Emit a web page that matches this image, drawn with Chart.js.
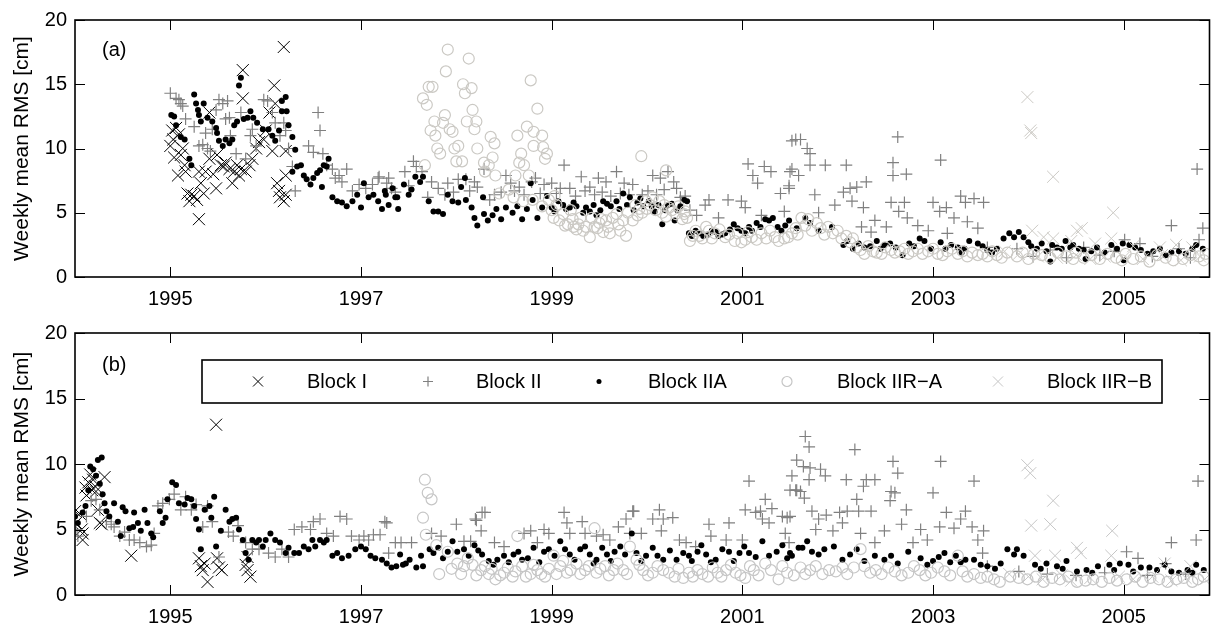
<!DOCTYPE html>
<html>
<head>
<meta charset="utf-8">
<script src="https://cdn.jsdelivr.net/npm/chart.js@4.4.0/dist/chart.umd.min.js"></script>
<style>
  html, body { margin: 0; padding: 0; background: #fff; }
  #wrap { position: relative; width: 1219px; height: 628px; }
  canvas { position: absolute; left: 0; }
  #chartA { top: 0; }
  #chartB { top: 310px; }
</style>
</head>
<body>
<div id="wrap">
  <canvas id="chartA" width="1219" height="310"></canvas>
  <canvas id="chartB" width="1219" height="318"></canvas>
</div>
<script>
const yearTicks = [1995, 1997, 1999, 2001, 2003, 2005];
const rmsTicks = [0, 5, 10, 15, 20];
const seriesNames = ['Block I', 'Block II', 'Block IIA', 'Block IIR\u2212A', 'Block IIR\u2212B'];

// panel (a): [decimal year, weekly mean RMS cm]
const aBlockI = [
  [1995.00,10.2],[1995.03,10.7],[1995.02,11.4],[1995.06,11.6],[1995.09,11.1],[1995.11,9.5],[1995.13,10.0],
  [1995.08,7.9],[1995.15,8.7],[1995.16,8.2],[1995.18,6.5],[1995.20,5.9],[1995.22,6.4],[1995.25,6.3],
  [1995.30,4.5],[1995.30,8.2],[1995.32,7.3],[1995.35,6.5],[1995.37,8.2],[1995.41,9.2],[1995.41,12.8],
  [1995.48,6.9],[1995.49,9.5],[1995.53,8.7],[1995.56,8.6],[1995.62,8.4],[1995.65,7.3],[1995.67,8.2],
  [1995.70,8.7],[1995.76,16.1],[1995.76,13.9],[1995.72,7.9],[1995.79,8.2],[1995.83,8.7],[1995.86,9.2],
  [1995.90,10.0],[1995.93,10.5],[1995.98,10.7],[1996.00,11.4],[1996.09,14.9],[1996.10,13.5],[1996.07,9.8],
  [1996.12,7.3],[1996.14,6.7],[1996.15,6.2],[1996.21,6.4],[1996.19,17.9],[1996.21,7.9],[1996.19,5.9],
  [1996.21,9.8],[1995.04,9.3],[1995.28,6.0],[1995.45,8.0],[1995.58,8.9],[1995.74,8.4],[1996.04,12.8]
];
const aBlockII = [
  [1995.00,14.3],[1995.06,13.9],[1995.09,13.8],[1995.11,13.5],[1995.13,13.3],[1995.16,12.3],[1995.25,11.7],
  [1995.30,10.2],[1995.39,10.0],[1995.37,11.2],[1995.44,11.5],[1995.48,13.0],[1995.51,13.8],[1995.55,13.5],
  [1995.60,13.7],[1995.58,12.3],[1995.62,12.4],[1995.63,11.0],[1995.69,9.6],[1995.74,12.8],[1995.79,9.2],
  [1995.84,11.0],[1995.86,11.5],[1995.90,10.2],[1995.98,13.8],[1996.02,13.7],[1996.07,12.8],[1996.10,12.0],
  [1996.15,11.0],[1996.19,12.0],[1996.21,11.4],[1996.24,10.0],[1996.28,8.6],[1996.31,6.7],[1996.45,10.2],
  [1996.50,9.7],[1996.55,12.8],[1996.57,11.4],[1996.60,9.6],[1996.64,8.7],[1996.70,8.4],[1996.73,7.7],
  [1996.77,7.9],[1996.80,7.4],[1996.85,8.4],[1996.91,6.7],[1996.98,7.2],[1997.05,6.9],[1997.12,7.2],
  [1997.18,7.7],[1997.27,7.3],[1997.32,6.9],[1995.34,10.3],[1995.42,9.8],
  [1997.19,7.8],[1997.29,7.7],[1997.46,8.2],[1997.55,9.0],[1997.58,8.6],[1997.64,8.2],[1997.74,7.4],
  [1997.81,6.9],[1997.88,6.4],[1997.91,7.3],[1998.02,7.6],[1998.10,7.6],[1998.19,7.4],[1998.22,7.0],
  [1998.29,8.4],[1998.40,6.4],[1998.52,7.9],[1998.57,7.3],[1998.61,6.7],[1998.71,6.4],[1998.79,7.4],
  [1998.83,7.7],[1998.92,7.2],[1999.00,7.3],[1999.13,8.7],[1999.19,6.9],[1999.31,7.8],[1999.40,7.0],
  [1999.49,7.7],[1999.57,7.4],[1999.68,8.2],[1999.76,7.3],[1999.85,7.2],[1999.95,6.4],[2000.06,7.9],
  [2000.14,7.7],[2000.22,8.2],[2000.28,7.4],[2000.35,6.2],[2000.52,4.8],[2000.61,5.6],[2000.65,6.0],
  [2000.85,6.0],[2000.99,5.9],[2001.06,8.8],[2001.11,7.9],[2001.16,7.3],[2001.23,8.6],[2001.30,8.2],
  [2001.40,6.5],[2001.44,5.1],[2001.49,6.9],[2001.52,10.6],[2001.50,8.2],[2001.03,5.4],
  [1997.70,6.2],[1998.35,6.0],[1999.05,6.5],[1999.62,6.3],[2000.45,5.2],[2000.75,4.6],[2001.20,4.8],
  [1997.36,6.6],[1997.50,7.1],[1997.97,6.6],[1998.14,6.7],[1998.47,6.6],[1998.66,7.0],[1998.88,6.5],
  [1999.09,6.9],[1999.25,6.3],[1999.35,6.7],[1999.45,6.4],[1999.53,6.6],[1999.72,6.5],[1999.81,6.4],
  [2000.01,6.7],[2000.10,6.4],[2000.18,6.8],[2000.31,6.9],[2000.40,6.3],
  [2001.56,10.7],[2001.61,10.7],[2001.68,10.0],[2001.71,9.6],[2001.52,8.4],[2001.59,7.9],[2001.49,7.1],
  [2001.71,8.7],[2001.87,8.7],[2002.09,8.7],[2001.76,6.4],[2001.80,5.0],[2001.97,5.6],[2002.06,6.6],
  [2002.13,6.9],[2002.20,7.0],[2002.30,7.4],[2002.15,5.9],[2002.27,5.4],[2002.25,3.9],[2002.39,4.4],
  [2002.35,3.5],[2002.51,3.9],[2002.56,5.8],[2002.64,5.1],[2002.63,10.9],[2002.58,8.9],[2002.58,7.9],
  [2002.72,8.0],[2002.70,5.8],[2002.73,4.6],[2002.84,4.0],[2002.95,3.6],[2003.00,5.8],[2003.08,9.1],
  [2003.07,5.1],[2003.14,5.4],[2003.22,4.6],[2003.29,6.3],[2003.34,5.8],[2003.43,6.1],[2003.53,5.8],
  [2003.36,4.3],[2003.47,3.8],[2003.15,3.4],[2003.57,2.3],[2005.50,4.0],[2005.77,8.4],[2005.83,3.8],
  [2005.01,2.9],[2005.17,2.6],[2005.79,2.9],[2003.88,2.2],[2004.23,2.1],[2004.58,2.3],[2004.90,2.0],
  [2005.58,2.2],[2004.05,1.6],[2004.40,1.5],[2004.75,1.7],[2005.30,1.6],[2005.70,1.5]
];
const aBlockIIA = [
  [1995.01,12.6],[1995.04,12.5],[1995.06,11.8],[1995.11,10.9],[1995.15,10.7],[1995.20,9.2],[1995.22,8.7],
  [1995.25,14.2],[1995.27,13.5],[1995.29,13.0],[1995.30,12.6],[1995.32,12.1],[1995.35,13.5],[1995.39,12.4],
  [1995.44,12.1],[1995.48,11.6],[1995.49,11.2],[1995.51,10.6],[1995.55,10.2],[1995.58,10.7],[1995.62,10.4],
  [1995.65,10.7],[1995.67,11.8],[1995.70,12.1],[1995.72,14.9],[1995.74,15.5],[1995.77,12.3],[1995.81,12.4],
  [1995.84,12.9],[1995.87,12.4],[1995.91,12.0],[1995.97,11.5],[1996.03,11.5],[1996.07,11.0],[1996.10,10.6],
  [1996.14,11.4],[1996.17,13.7],[1996.21,14.0],[1996.17,12.9],[1996.22,12.9],[1996.24,11.8],[1996.28,10.9],
  [1996.31,9.9],[1996.28,8.2],[1996.33,8.6],[1996.37,8.7],[1996.40,7.9],[1996.43,7.6],[1996.47,7.2],
  [1996.50,7.7],[1996.54,8.1],[1996.57,8.3],[1996.61,8.7],[1996.64,8.6],[1996.66,9.2],[1996.59,7.0],
  [1996.70,6.2],[1996.75,5.9],[1996.80,5.8],[1996.85,5.5],[1996.91,5.9],[1996.96,6.4],[1997.00,5.4],
  [1997.03,7.3],[1997.08,6.2],[1997.13,6.4],[1997.18,5.9],[1997.22,5.3],[1997.25,6.7],[1997.29,5.6],
  [1997.36,6.2],[1997.26,6.4],[1997.33,6.9],[1997.38,6.2],[1997.39,5.3],[1997.45,7.2],[1997.50,6.4],
  [1997.53,6.8],[1997.57,7.8],[1997.62,7.4],[1997.65,7.8],[1997.71,5.9],[1997.76,5.1],[1997.81,5.1],
  [1997.86,4.9],[1997.91,6.4],[1997.96,5.9],[1998.02,5.8],[1998.05,7.0],[1998.09,7.7],[1998.10,6.0],
  [1998.16,5.4],[1998.19,4.6],[1998.22,4.0],[1998.28,6.2],[1998.29,4.9],[1998.33,4.4],[1998.38,4.8],
  [1998.42,5.3],[1998.47,4.5],[1998.52,5.4],[1998.59,5.0],[1998.64,5.5],[1998.69,4.5],[1998.74,5.3],
  [1998.78,7.3],[1998.80,6.0],[1998.85,4.6],[1998.90,5.4],[1998.95,6.3],[1999.00,5.4],[1999.07,5.9],
  [1999.12,5.6],[1999.19,5.4],[1999.26,5.5],[1999.33,5.0],[1999.40,5.1],[1999.47,4.8],[1999.54,5.9],
  [1999.62,5.5],[1999.68,5.9],[1999.75,6.5],[1999.82,6.2],[1999.90,5.8],[1999.96,5.5],[2000.02,5.9],
  [2000.08,5.1],[2000.16,4.1],[2000.22,5.6],[2000.29,4.4],[2000.35,5.5],[2000.42,5.9],[2000.44,3.4],
  [1999.03,5.1],[1999.15,5.3],[1999.23,5.8],[1999.36,5.4],[1999.44,5.6],[1999.51,5.2],[1999.58,5.7],
  [1999.71,5.3],[1999.79,5.6],[1999.86,5.2],[1999.93,6.1],[2000.05,5.5],[2000.12,5.6],[2000.19,5.2],
  [2000.26,5.7],[2000.32,5.2],[2000.39,6.0],
  [2000.51,3.6],[2000.59,3.2],[2000.68,3.6],[2000.75,3.2],[2000.82,3.4],[2000.91,4.1],[2000.99,3.6],
  [2001.10,3.6],[2001.15,4.2],[2001.24,4.5],[2001.32,4.6],[2001.41,3.6],[2001.49,4.4],
  [2000.47,3.2],[2000.55,3.4],[2000.64,3.3],[2000.72,3.5],[2000.79,3.3],[2000.87,3.7],[2000.95,3.8],
  [2001.03,3.4],[2001.07,3.9],[2001.19,3.9],[2001.28,4.4],[2001.37,3.9],[2001.45,4.0],
  [2001.57,3.8],[2001.66,4.6],[2001.71,4.2],[2001.80,3.6],[2001.94,3.9],[2002.06,2.5],[2002.16,2.2],
  [2002.28,2.3],[2002.41,2.8],[2002.49,2.5],[2002.61,2.3],[2002.68,1.7],[2002.75,2.6],[2002.86,3.0],
  [2002.91,2.8],[2003.08,2.7],[2003.19,2.5],[2003.26,2.3],[2003.33,2.2],[2003.38,2.8],[2003.47,2.6],
  [2003.57,2.1],[2003.67,2.2],[2003.74,3.0],[2003.80,3.4],[2003.85,3.1],[2003.90,3.5],[2003.95,3.1],
  [2004.00,2.7],[2004.09,2.2],[2004.19,2.0],[2004.30,2.3],[2004.39,2.8],[2004.47,2.5],[2004.58,2.1],
  [2004.72,2.3],[2004.87,2.5],[2004.99,2.6],[2005.06,2.5],[2005.18,2.1],[2005.31,2.0],[2005.44,1.7],
  [2005.58,2.0],[2005.76,2.5],[2005.83,2.2],[2004.23,1.2],[2004.60,1.4],[2005.00,1.3],
  [2002.10,2.8],[2002.22,2.6],[2002.34,2.4],[2002.45,2.2],[2002.55,2.6],[2002.80,2.4],[2002.98,2.2],
  [2003.13,2.2],[2003.30,1.9],[2003.52,2.4],[2003.62,1.9],[2004.03,2.4],[2004.14,2.6],[2004.25,2.5],
  [2004.35,2.2],[2004.44,2.3],[2004.53,2.2],[2004.66,2.0],[2004.80,1.9],[2004.93,2.2],[2005.12,2.3],
  [2005.25,1.8],[2005.38,2.2],[2005.50,1.9],[2005.65,1.8],[2005.72,2.2]
];
const aBlockIIRA = [
  [1997.91,17.7],[1998.13,17.0],[1997.89,16.0],[1997.71,14.8],[1997.75,14.8],[1997.65,13.9],[1997.69,13.4],
  [1998.07,15.0],[1998.16,14.7],[1998.09,14.3],[1998.78,15.3],[1998.85,13.1],[1998.17,13.0],[1997.88,12.6],
  [1997.77,12.1],[1997.86,12.0],[1998.11,12.1],[1998.21,12.1],[1998.19,11.5],[1997.73,11.4],[1997.93,11.5],
  [1997.96,11.3],[1997.78,11.0],[1998.74,11.7],[1998.81,11.3],[1998.90,11.0],[1998.64,11.0],[1998.36,10.9],
  [1998.40,10.4],[1998.02,10.2],[1997.98,10.0],[1998.22,10.0],[1997.80,10.0],[1997.83,9.6],[1998.81,10.2],
  [1998.91,10.1],[1998.38,9.3],[1998.68,9.6],[1998.95,9.6],[1998.00,9.0],[1998.06,9.0],[1998.93,9.2],
  [1998.29,8.9],[1998.66,8.9],[1998.71,8.7],[1997.67,8.7],[1998.34,8.7],[1998.41,7.9],[1998.62,7.9],
  [1998.76,7.9],[1998.30,8.2],[1999.94,9.4],[2000.20,8.3],
  [1998.45,6.5],[1998.55,6.8],[1998.60,6.2],[1998.70,5.9],[1998.80,6.0],[1998.90,5.5],
  [1999.02,4.6],[1999.12,4.9],[1999.17,4.1],[1999.23,3.9],[1999.26,3.7],[1999.33,3.6],[1999.40,3.1],
  [1999.45,3.9],[1999.54,3.5],[1999.61,3.4],[1999.57,4.4],[1999.68,4.9],[1999.78,3.2],[1999.85,4.4],
  [1999.92,5.3],[1999.99,5.9],[2000.06,6.2],[2000.13,5.9],[2000.16,5.0],[2000.23,5.4],[2000.30,4.9],
  [2000.37,4.5],[2000.42,4.6],[1999.05,5.6],[1999.20,5.2],[1999.30,4.6],[1999.50,4.2],[1999.70,4.1],
  [1999.90,4.8],[2000.00,5.3],[2000.20,4.7],[2000.40,5.1],
  [1998.97,6.0],[1999.03,6.3],[1999.00,5.2],[1999.08,4.4],[1999.14,4.0],[1999.22,4.5],[1999.28,4.1],
  [1999.36,3.9],[1999.42,4.6],[1999.48,3.8],[1999.52,4.5],[1999.59,3.9],[1999.64,4.6],[1999.72,3.6],
  [1999.75,4.4],[1999.80,5.0],[1999.88,5.6],[1999.95,5.0],[2000.03,5.6],[2000.09,5.2],[2000.18,5.6],
  [2000.26,5.2],[2000.33,5.5],[2000.39,4.9],
  [2000.45,2.8],[2000.51,3.6],[2000.55,3.2],[2000.65,3.6],[2000.71,3.4],[2000.82,3.1],[2000.92,2.8],
  [2000.99,2.7],[2001.10,3.1],[2001.20,3.4],[2001.34,3.1],[2001.44,3.0],[2001.52,3.4],
  [2000.48,3.2],[2000.58,3.0],[2000.62,3.9],[2000.68,3.0],[2000.76,3.7],[2000.86,3.3],[2000.95,3.4],
  [2001.03,2.9],[2001.06,3.5],[2001.15,2.9],[2001.25,3.0],[2001.29,3.6],[2001.38,2.8],[2001.48,3.1],
  [2001.56,3.8],[2001.58,3.3],
  [2001.62,4.6],[2001.69,4.5],[2001.78,4.2],[2001.90,3.9],[2002.00,3.6],[2002.09,3.2],[2002.20,2.3],
  [2001.66,4.0],[2001.73,3.6],[2001.82,3.8],[2001.86,3.3],[2001.95,3.4],[2002.04,3.0],[2002.13,2.7],
  [2002.16,3.0],
  [2002.28,1.8],[2002.37,2.0],[2002.46,1.8],[2002.56,2.1],[2002.65,2.0],[2002.74,1.8],[2002.84,2.2],
  [2002.95,2.0],[2003.05,1.8],[2003.15,2.0],[2003.26,1.8],[2003.36,1.6],[2003.47,1.7],[2003.57,1.6],
  [2003.67,1.7],[2003.88,1.6],[2004.06,1.8],[2004.23,1.5],[2004.40,1.6],[2004.58,1.5],[2004.75,1.4],
  [2004.92,1.5],[2005.10,1.4],[2005.27,1.2],[2005.44,1.5],[2005.62,1.4],[2005.79,1.6],[2005.86,1.8],
  [2002.24,2.1],[2002.32,2.4],[2002.41,1.9],[2002.50,2.3],[2002.60,1.9],[2002.70,2.2],[2002.79,2.0],
  [2002.89,1.8],[2003.00,2.2],[2003.10,1.7],[2003.20,2.2],[2003.31,2.0],[2003.41,1.9],[2003.52,1.8],
  [2003.62,2.0],[2003.72,1.5],[2003.78,1.9],[2003.94,1.9],[2004.00,1.4],[2004.14,1.7],[2004.31,1.9],
  [2004.47,1.4],[2004.50,1.9],[2004.66,1.7],[2004.83,1.8],[2004.98,1.3],[2005.02,1.8],[2005.18,1.6],
  [2005.35,1.7],[2005.52,1.3],[2005.70,1.7],[2005.84,1.3]
];
const aBlockIIRB = [
  [2003.99,14.0],[2004.02,11.4],[2004.03,11.2],[2004.26,7.8],[2004.89,5.0],[2004.04,3.6],[2004.51,3.6],
  [2004.56,3.8],[2004.26,3.0],[2004.87,3.0],[2005.38,2.3],[2005.72,2.3],[2004.16,3.1],[2004.45,2.8],
  [2004.70,2.6],[2005.10,2.4],[2005.55,2.5],[2003.75,2.0],[2003.90,1.8],[2004.10,1.6],[2004.30,1.5],
  [2004.50,1.7],[2004.65,1.4],[2004.80,1.6],[2005.00,1.5],[2005.20,1.4],[2005.40,1.7],[2005.60,1.3],
  [2005.80,1.6]
];

// panel (b)
const bBlockI = [
  [1994.00,6.4],[1994.01,5.5],[1994.07,5.0],[1994.08,4.7],[1994.08,4.2],[1994.11,8.2],[1994.14,8.6],
  [1994.16,9.2],[1994.19,8.8],[1994.21,8.3],[1994.22,7.9],[1994.24,6.5],[1994.26,5.5],[1994.31,9.0],
  [1994.28,5.4],[1994.59,3.0],[1995.30,2.8],[1995.32,2.2],[1995.34,1.9],[1995.39,1.0],[1995.36,2.4],
  [1995.48,13.0],[1995.49,2.8],[1995.51,2.1],[1995.54,1.9],[1995.79,2.3],[1995.81,1.9],[1995.84,1.4],
  [1995.81,2.9],[1994.12,7.6],[1994.18,8.0],[1994.05,6.2]
];
const bBlockII = [
  [1994.01,5.0],[1994.03,4.5],[1994.12,6.0],[1994.17,7.2],[1994.22,7.3],[1994.26,6.5],[1994.33,5.6],
  [1994.38,5.4],[1994.41,5.2],[1994.47,4.5],[1994.52,4.8],[1994.57,4.2],[1994.62,4.2],[1994.68,4.0],
  [1994.75,3.7],[1994.80,3.8],[1994.83,4.7],[1994.87,6.8],[1994.92,7.0],[1994.99,7.3],[1995.04,7.7],
  [1995.11,6.5],[1995.16,7.5],[1995.22,6.5],[1995.27,6.9],[1995.34,5.2],[1995.39,6.8],[1995.44,5.6],
  [1995.51,2.9],[1995.61,4.8],[1995.66,4.5],[1995.71,5.3],[1995.79,4.0],[1995.86,3.5],[1995.93,3.5],
  [1996.03,3.2],[1996.10,2.9],[1996.17,3.5],[1996.24,2.9],[1996.30,5.0],[1996.38,5.2],[1996.47,5.0],
  [1996.50,5.6],[1996.57,5.8],[1996.64,4.7],[1996.71,4.5],[1996.78,6.0],[1996.85,5.8],[1996.90,4.5],
  [1996.98,4.2],[1997.03,4.5],[1997.08,4.2],[1997.13,4.6],[1997.20,4.6],[1997.25,5.6],[1997.29,3.2],
  [1997.36,4.0],[1997.27,5.5],[1998.00,5.4],[1998.21,5.7],[1998.30,6.3],[1999.13,6.3],[1999.86,6.4],
  [2000.13,6.5],
  [1997.42,4.0],[1997.53,4.0],[1997.74,4.7],[1997.84,4.5],[1998.08,4.1],[1998.20,5.8],[1998.27,6.3],
  [1998.26,4.9],[1998.15,4.1],[1998.40,4.0],[1998.50,3.7],[1998.71,4.7],[1998.78,4.9],[1998.92,5.0],
  [1998.97,4.7],[1998.85,4.0],[1999.16,5.5],[1999.32,5.6],[1999.19,4.7],[1999.35,4.7],[1999.47,4.5],
  [1999.54,4.6],[1999.61,4.2],[1999.70,5.2],[1999.78,5.8],[1999.85,6.4],[1999.82,4.7],[1999.94,4.7],
  [2000.06,5.8],[2000.17,5.8],[2000.27,5.9],[2000.15,4.9],[2000.34,4.2],[2000.41,4.0],[2000.51,3.7],
  [2000.65,5.4],[2000.67,4.5],[2000.86,5.5],[2000.83,4.2],[2001.00,4.2],[2001.07,8.7],[2001.03,6.5],
  [2001.14,6.3],[2001.19,6.4],[2001.24,7.3],[2001.31,6.6],[2001.21,5.8],[2001.28,5.5],[2001.42,6.0],
  [2001.50,6.0],[2001.56,8.0],[2001.61,7.9],[2001.45,4.7],[2001.49,4.0],
  [2001.66,12.1],[2001.70,11.3],[2001.57,10.3],[2001.64,9.8],[2001.71,9.7],[2001.82,9.6],[2001.87,9.1],
  [2001.52,9.1],[2001.70,8.8],[2001.50,8.0],[2001.57,8.0],[2001.65,7.4],[2001.47,5.9],[2001.73,6.4],
  [2001.80,5.8],[2001.77,5.0],[2001.88,6.1],[2001.95,4.9],[2002.09,8.8],[2002.18,11.1],[2002.27,8.3],
  [2002.30,8.8],[2002.39,8.8],[2002.02,6.3],[2002.10,6.4],[2002.20,7.3],[2002.22,6.4],[2002.35,6.4],
  [2002.05,5.5],[2002.24,4.7],[2002.39,4.0],[2002.49,4.9],[2002.58,10.2],[2002.63,9.3],[2002.56,7.9],
  [2002.60,7.8],[2002.55,7.2],[2002.67,5.4],[2002.72,6.5],[2002.79,4.0],[2002.87,5.0],[2002.94,4.2],
  [2003.00,7.8],[2003.08,10.2],[2003.07,5.2],[2003.14,6.3],[2003.22,5.1],[2003.29,5.8],[2003.34,6.4],
  [2003.43,8.7],[2003.41,5.2],[2003.53,4.9],[2003.47,4.2],[2003.52,3.2],[2003.57,2.2],[2005.03,3.3],
  [2005.15,2.8],[2005.50,4.0],[2005.76,4.2],[2005.78,8.7],[2005.44,2.4],[2003.90,1.8],[2004.20,1.6],
  [2004.50,1.5],[2004.80,1.7],[2005.25,1.5],[2005.65,1.6]
];
const bBlockIIA = [
  [1994.00,6.0],[1994.03,5.5],[1994.08,6.3],[1994.11,6.8],[1994.14,8.0],[1994.16,9.8],[1994.19,9.6],
  [1994.24,10.3],[1994.28,10.5],[1994.26,8.5],[1994.22,9.1],[1994.29,7.7],[1994.31,7.0],[1994.33,6.4],
  [1994.36,6.0],[1994.41,7.0],[1994.45,5.6],[1994.48,4.5],[1994.50,6.7],[1994.53,6.4],[1994.57,5.1],
  [1994.61,5.2],[1994.62,6.3],[1994.66,5.5],[1994.69,4.9],[1994.73,6.5],[1994.76,5.5],[1994.80,4.7],
  [1994.82,4.4],[1994.89,6.4],[1994.92,5.5],[1994.95,5.9],[1994.97,7.3],[1995.02,8.6],[1995.06,8.4],
  [1995.09,7.0],[1995.15,6.9],[1995.18,7.4],[1995.22,7.3],[1995.25,6.8],[1995.27,5.8],[1995.30,5.0],
  [1995.32,3.5],[1995.36,6.5],[1995.41,6.8],[1995.43,5.9],[1995.46,7.5],[1995.48,3.7],[1995.53,4.9],
  [1995.58,6.5],[1995.62,5.6],[1995.65,5.8],[1995.69,5.9],[1995.72,5.0],[1995.76,4.2],[1995.79,3.2],
  [1995.82,2.7],[1995.86,4.2],[1995.90,4.0],[1995.93,4.2],[1995.97,3.7],[1996.00,4.2],[1996.05,4.7],
  [1996.10,4.2],[1996.15,4.0],[1996.21,3.2],[1996.24,3.6],[1996.30,3.2],[1996.35,3.2],[1996.40,3.7],
  [1996.45,3.5],[1996.49,4.2],[1996.52,3.7],[1996.57,4.2],[1996.61,4.0],[1996.64,4.2],[1996.70,3.0],
  [1996.75,3.2],[1996.80,2.8],[1996.87,3.0],[1996.94,3.5],[1997.00,3.7],[1997.05,3.5],[1997.10,3.0],
  [1997.15,2.8],[1997.22,2.7],[1997.27,2.4],[1997.32,2.1],[1997.37,2.2],
  [1997.41,3.1],[1997.44,2.3],[1997.51,2.7],[1997.58,2.1],[1997.65,2.2],[1997.63,3.0],[1997.72,3.5],
  [1997.81,3.6],[1997.91,3.3],[1997.96,4.1],[1998.01,3.3],[1998.08,3.5],[1998.19,3.8],[1998.27,3.1],
  [1998.34,2.6],[1998.43,2.7],[1998.50,3.0],[1998.60,3.1],[1998.69,2.7],[1998.81,3.6],[1998.92,3.3],
  [1998.97,3.5],[1999.09,4.1],[1999.19,3.1],[1999.30,3.5],[1999.40,3.1],[1999.47,2.7],[1999.58,3.1],
  [1999.66,3.3],[1999.77,3.1],[1999.84,4.7],[1999.89,3.2],[1999.99,3.0],[2000.06,3.6],[2000.17,2.7],
  [2000.31,2.7],[2000.38,3.2],[2000.44,3.0],[2000.53,3.3],[2000.62,3.1],[2000.72,2.7],[2000.86,3.3],
  [2000.97,3.2],[2001.07,3.2],[2001.21,4.1],[2001.28,3.0],[2001.42,3.8],[2001.50,3.2],[2001.63,3.6],
  [1997.47,2.4],[1997.76,3.2],[1997.86,2.8],[1998.13,3.0],[1998.23,3.4],[1998.39,2.3],[1998.55,2.5],
  [1998.65,3.3],[1998.75,2.8],[1998.87,2.5],[1999.03,3.0],[1999.14,3.5],[1999.24,2.7],[1999.35,3.7],
  [1999.44,2.4],[1999.53,3.6],[1999.62,2.6],[1999.72,3.7],[1999.94,2.6],[2000.11,3.0],[2000.24,3.4],
  [2000.47,2.6],[2000.57,3.8],[2000.67,2.5],[2000.79,3.5],[2000.91,2.6],[2001.02,3.7],[2001.14,2.9],
  [2001.36,3.3],[2001.47,2.8],[2001.86,3.5],[2002.05,2.7],[2002.28,2.6],[2002.56,3.0],[2002.94,2.3],
  [2003.06,2.9],[2003.18,2.5],[2003.29,2.5],[2003.50,2.3],[2003.65,2.0],[2004.13,2.0],[2004.36,2.0],
  [2004.67,1.7],[2004.90,1.9],[2005.10,1.8],[2005.35,1.9],[2005.50,1.8],[2005.72,1.7],
  [2001.73,3.3],[2001.68,4.1],[2001.59,3.6],[2001.52,3.0],[2001.80,3.1],[2001.96,3.7],[2002.13,3.1],
  [2002.20,3.5],[2002.39,3.0],[2002.49,2.7],[2002.63,2.4],[2002.74,3.3],[2002.87,2.8],[2003.00,2.6],
  [2003.12,3.2],[2003.24,3.0],[2003.34,2.7],[2003.43,2.7],[2003.57,2.2],[2003.71,2.4],[2003.78,3.5],
  [2003.88,3.5],[2003.85,3.1],[2003.95,3.0],[2004.07,2.3],[2004.19,2.4],[2004.30,2.2],[2004.40,2.6],
  [2004.51,1.8],[2004.61,1.9],[2004.73,2.2],[2004.85,2.3],[2004.96,2.4],[2005.05,2.3],[2005.18,2.1],
  [2005.27,2.1],[2005.43,2.3],[2005.58,1.7],[2005.67,1.9],[2005.76,2.3],[2005.84,1.9]
];
const bBlockIIRA = [
  [1997.67,8.8],[1997.70,7.8],[1997.74,7.3],[1997.65,5.9],[1997.68,4.6],[1997.79,3.8],[1997.91,3.3],
  [1997.82,1.6],[1998.01,2.4],[1998.08,2.2],[1998.17,2.3],[1998.26,1.9],[1998.34,1.6],[1998.41,1.2],
  [1998.50,1.7],[1998.59,1.4],[1998.64,4.5],[1998.69,2.2],[1998.78,1.6],[1998.85,1.9],[1998.93,1.4],
  [1999.02,3.0],[1999.09,2.2],[1999.16,1.7],[1999.26,2.4],[1999.35,1.9],[1999.45,5.1],[1999.47,1.7],
  [1999.56,2.2],[1999.65,1.9],[1999.75,1.9],[1999.82,3.7],[1999.89,2.7],[1999.96,1.9],[2000.06,1.7],
  [2000.17,1.9],[2000.29,1.4],[2000.38,1.3],[2000.44,1.7],[2000.53,1.9],[2000.64,1.4],[2000.74,1.7],
  [2000.83,1.9],[2000.93,1.7],[2001.03,1.3],[2001.12,1.9],[2001.24,2.4],[2001.38,1.2],[2001.47,1.7],
  [2001.61,2.1],[2001.71,1.9],
  [1997.95,2.0],[1998.05,1.6],[1998.12,2.8],[1998.21,1.5],[1998.30,2.2],[1998.37,2.0],[1998.46,1.5],
  [1998.54,2.1],[1998.62,1.8],[1998.73,1.4],[1998.81,2.3],[1998.89,1.6],[1998.97,2.0],[1999.05,1.6],
  [1999.12,2.6],[1999.20,1.9],[1999.30,1.6],[1999.39,2.2],[1999.51,2.0],[1999.60,1.5],[1999.69,2.4],
  [1999.79,1.6],[1999.92,2.3],[2000.01,1.5],[2000.11,2.2],[2000.23,1.7],[2000.33,2.0],[2000.48,1.4],
  [2000.58,1.6],[2000.69,2.1],[2000.78,1.4],[2000.88,2.3],[2000.98,1.5],[2001.08,2.2],[2001.17,1.5],
  [2001.30,1.9],[2001.42,2.2],[2001.54,1.5],[2001.66,1.6],[2001.84,1.6],[2001.98,1.8],[2002.10,1.6],
  [2002.28,2.2],[2002.40,1.9],[2002.53,2.1],[2002.67,1.5],[2002.80,2.2],[2002.92,1.5],[2003.05,2.1],
  [2003.18,1.5],[2003.31,1.8],[2003.43,1.6],[2003.57,1.4],[2003.70,1.0],[2003.90,1.3],[2004.08,1.4],
  [2004.25,1.3],[2004.42,1.4],[2004.60,1.1],[2004.77,1.0],[2004.93,1.1],[2005.12,1.4],[2005.28,1.3],
  [2005.46,1.0],[2005.63,1.3],[2005.78,1.2],
  [2001.77,2.2],[2001.91,1.9],[2002.05,2.1],[2002.17,2.1],[2002.24,3.5],[2002.34,1.7],[2002.46,1.6],
  [2002.60,1.8],[2002.74,1.7],[2002.86,1.9],[2002.98,1.7],[2003.12,1.8],[2003.26,3.0],[2003.36,1.4],
  [2003.50,1.3],[2003.64,1.2],[2003.81,1.4],[2003.99,1.2],[2004.16,1.0],[2004.33,1.2],[2004.51,1.0],
  [2004.68,1.2],[2004.85,1.3],[2005.03,1.2],[2005.20,1.0],[2005.37,1.2],[2005.55,1.2],[2005.72,1.0],
  [2005.84,1.4]
];
const bBlockIIRB = [
  [2003.99,9.9],[2004.02,9.3],[2004.26,7.2],[2004.03,5.3],[2004.23,5.4],[2004.88,4.9],[2004.51,3.6],
  [2004.55,3.2],[2004.07,3.0],[2004.28,3.0],[2004.87,3.0],[2005.43,2.4],[2005.70,2.2],[2003.80,1.6],
  [2004.00,1.4],[2004.15,1.2],[2004.35,1.5],[2004.45,1.1],[2004.65,1.3],[2004.95,1.4],[2005.10,1.2],
  [2005.30,1.4],[2005.50,1.1],[2005.65,1.3],[2005.85,1.2]
];

const FONT = '"Liberation Sans", Arial, Helvetica, sans-serif';
const GRAY = '#808080';
const LIGHT_A = '#cbc9c4';
const LIGHT_B = '#c6c6c6';

function toPts(arr) {
  return arr.map(p => ({ x: p[0], y: p[1] }));
}

function makeDatasets(series, light) {
  return [
    { label: seriesNames[0], data: toPts(series[0]), pointStyle: 'crossRot', pointRadius: 8.5,
      pointBorderColor: '#000', pointBackgroundColor: '#000', pointBorderWidth: 1, order: 5 },
    { label: seriesNames[1], data: toPts(series[1]), pointStyle: 'cross', pointRadius: 6,
      pointBorderColor: GRAY, pointBackgroundColor: GRAY, pointBorderWidth: 1.2, order: 4 },
    { label: seriesNames[2], data: toPts(series[2]), pointStyle: 'circle', pointRadius: 3,
      pointBorderColor: '#000', pointBackgroundColor: '#000', pointBorderWidth: 0, order: 3 },
    { label: seriesNames[3], data: toPts(series[3]), pointStyle: 'circle', pointRadius: 5.5,
      pointBorderColor: light, pointBackgroundColor: 'rgba(0,0,0,0)', pointBorderWidth: 1.2, order: 2 },
    { label: seriesNames[4], data: toPts(series[4]), pointStyle: 'crossRot', pointRadius: 8.5,
      pointBorderColor: light, pointBackgroundColor: light, pointBorderWidth: 1, order: 1 }
  ];
}

// box, inward ticks and panel letter
const framePlugin = {
  id: 'frame',
  afterDraw(chart, args, opts) {
    const { ctx, chartArea: a } = chart;
    const x = chart.scales.x, y = chart.scales.y;
    const tl = 10;
    ctx.save();
    ctx.strokeStyle = '#000';
    ctx.lineWidth = 1;
    ctx.beginPath();
    yearTicks.forEach(v => {
      const px = Math.round(x.getPixelForValue(v)) + 0.5;
      ctx.moveTo(px, a.bottom); ctx.lineTo(px, a.bottom - tl);
      ctx.moveTo(px, a.top); ctx.lineTo(px, a.top + tl);
    });
    rmsTicks.forEach(v => {
      const py = Math.round(y.getPixelForValue(v)) + 0.5;
      ctx.moveTo(a.left, py); ctx.lineTo(a.left + tl, py);
      ctx.moveTo(a.right, py); ctx.lineTo(a.right - tl, py);
    });
    ctx.stroke();
    ctx.lineWidth = 1.6;
    ctx.strokeRect(a.left, a.top, a.right - a.left, a.bottom - a.top);
    ctx.fillStyle = '#000';
    ctx.font = '20px ' + FONT;
    ctx.textBaseline = 'middle';
    ctx.textAlign = 'left';
    ctx.fillText(opts.label, a.left + 27, a.top + opts.labelDy);
    ctx.restore();
  }
};

function drawMarker(ctx, kind, cx, cy) {
  ctx.beginPath();
  if (kind === 0 || kind === 4) {
    const r = 5;
    ctx.strokeStyle = kind === 0 ? '#000' : LIGHT_B;
    ctx.lineWidth = 1;
    ctx.moveTo(cx - r, cy - r); ctx.lineTo(cx + r, cy + r);
    ctx.moveTo(cx - r, cy + r); ctx.lineTo(cx + r, cy - r);
    ctx.stroke();
  } else if (kind === 1) {
    const r = 5;
    ctx.strokeStyle = GRAY;
    ctx.lineWidth = 1.2;
    ctx.moveTo(cx - r, cy); ctx.lineTo(cx + r, cy);
    ctx.moveTo(cx, cy - r); ctx.lineTo(cx, cy + r);
    ctx.stroke();
  } else if (kind === 2) {
    ctx.fillStyle = '#000';
    ctx.arc(cx, cy, 2.5, 0, Math.PI * 2);
    ctx.fill();
  } else {
    ctx.strokeStyle = LIGHT_B;
    ctx.lineWidth = 1.2;
    ctx.arc(cx, cy, 5, 0, Math.PI * 2);
    ctx.stroke();
  }
}

// legend box inside panel (b)
const legendBoxPlugin = {
  id: 'legendBox',
  afterDraw(chart) {
    const ctx = chart.ctx;
    const box = { left: 202, top: 50, right: 1162, bottom: 93 };
    const markX = [258, 428, 599, 787, 998];
    const textX = [307, 476, 648, 837, 1047];
    const cy = (box.top + box.bottom) / 2;
    ctx.save();
    ctx.fillStyle = '#fff';
    ctx.fillRect(box.left, box.top, box.right - box.left, box.bottom - box.top);
    ctx.strokeStyle = '#000';
    ctx.lineWidth = 1.6;
    ctx.strokeRect(box.left, box.top, box.right - box.left, box.bottom - box.top);
    seriesNames.forEach((name, i) => {
      drawMarker(ctx, i, markX[i], cy);
      ctx.fillStyle = '#000';
      ctx.font = '20px ' + FONT;
      ctx.textAlign = 'left';
      ctx.textBaseline = 'middle';
      ctx.fillText(name, textX[i], cy + 1);
    });
    ctx.restore();
  }
};

function makeOptions(topPad, label, labelDy) {
  return {
    responsive: false,
    animation: false,
    events: [],
    layout: { padding: { top: topPad, right: 2, left: 0, bottom: 0 } },
    plugins: {
      legend: { display: false },
      tooltip: { enabled: false },
      frame: { label: label, labelDy: labelDy }
    },
    scales: {
      x: {
        type: 'linear', min: 1994, max: 2005.9,
        afterBuildTicks: s => { s.ticks = yearTicks.map(v => ({ value: v })); },
        afterFit: s => { s.height = 33; },
        grid: { display: false, drawTicks: false },
        border: { display: false },
        ticks: { padding: 10, maxRotation: 0, autoSkip: false, color: '#000',
                 font: { family: FONT, size: 20 }, callback: v => String(v) }
      },
      y: {
        type: 'linear', min: 0, max: 20,
        afterBuildTicks: s => { s.ticks = rmsTicks.map(v => ({ value: v })); },
        afterFit: s => { s.width = 75; },
        grid: { display: false, drawTicks: false },
        border: { display: false },
        ticks: { padding: 8, color: '#000', font: { family: FONT, size: 20 }, callback: v => String(v) },
        title: { display: true, text: 'Weekly mean RMS [cm]', color: '#000',
                 font: { family: FONT, size: 21 }, padding: { top: 10, bottom: 0 } }
      }
    }
  };
}

new Chart(document.getElementById('chartA'), {
  type: 'scatter',
  data: { datasets: makeDatasets([aBlockI, aBlockII, aBlockIIA, aBlockIIRA, aBlockIIRB], LIGHT_A) },
  options: makeOptions(15, '(a)', 30),
  plugins: [framePlugin]
});

new Chart(document.getElementById('chartB'), {
  type: 'scatter',
  data: { datasets: makeDatasets([bBlockI, bBlockII, bBlockIIA, bBlockIIRA, bBlockIIRB], LIGHT_B) },
  options: makeOptions(23, '(b)', 32),
  plugins: [framePlugin, legendBoxPlugin]
});
</script>
</body>
</html>
